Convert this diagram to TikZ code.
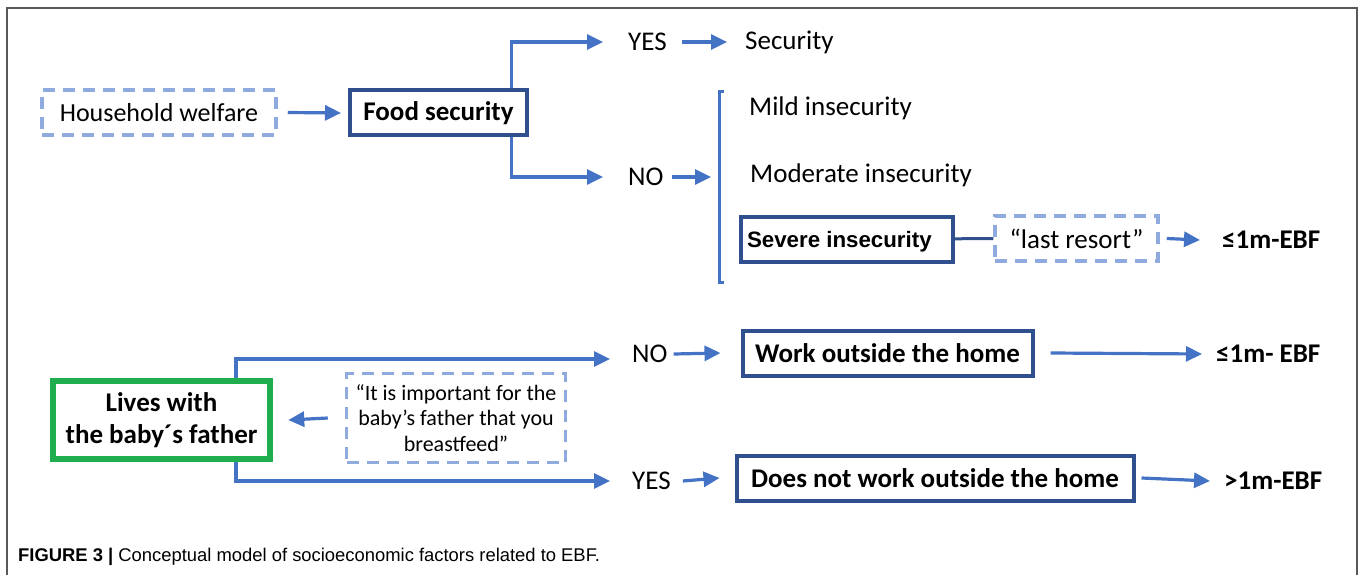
\documentclass[tikz,border=0pt]{standalone}
\usepackage{fontspec}
\setmainfont{Carlito}
\newfontfamily\capfont{Liberation Sans}
\usetikzlibrary{arrows.meta}
\usetikzlibrary{calc}

\definecolor{arrblue}{HTML}{4472C4}
\definecolor{boxblue}{HTML}{2F4F8F}
\definecolor{dashblue}{HTML}{8FAADC}
\definecolor{boxgreen}{HTML}{1EAE4E}

\tikzset{
	arr/.style={draw=arrblue, line width=3.2pt, -{Triangle[length=16pt,width=15pt]}},
	lnk/.style={draw=arrblue, line width=3pt},
	solidbox/.style={draw=boxblue, line width=4pt, font=\fontsize{27}{32}\selectfont\bfseries, inner sep=0pt, minimum height=45pt},
	dashbox/.style={draw=dashblue, line width=3.5pt, dash pattern=on 12pt off 8pt, inner sep=0pt},
	txt/.style={inner sep=0pt, anchor=west},
	bold/.style={font=\fontsize{27}{32}\selectfont\bfseries},
}

\begin{document}
\begin{tikzpicture}[x=1pt, y=-1pt, font=\fontsize{27}{32}\selectfont]
	\useasboundingbox (0,0) rectangle (1360,575);
	\draw[black!65, line width=1.5pt] (7,575) -- (7,8) -- (1357,8) -- (1357,575);

	% food security
	\node[dashbox, minimum width=234pt, minimum height=45pt, font=\fontsize{26}{31}\selectfont] (hw) at (159,112.5) {Household welfare};
	\node[solidbox, minimum width=177pt] (fs) at (438.5,113) {Food security};
	\node[txt] (yes1) at (628,42) {YES};
	\node[txt] (sec) at (745,42) {Security};
	\node[txt] (no1) at (628,177) {NO};
	\coordinate (brk) at (719,177);
	\node[txt] (mild) at (749,108) {Mild insecurity};
	\node[txt] (mod) at (750,175) {Moderate insecurity};
	\node[solidbox, minimum width=212pt, inner xsep=6pt, text height=16pt, text depth=0pt, font=\capfont\fontsize{22.3}{27}\selectfont\bfseries] (sev) at (847,239) {\makebox[200pt][l]{Severe insecurity}};
	\node[dashbox, minimum width=163pt, minimum height=45pt] (lr) at (1076.5,238.5) {“last resort”};
	\node[txt, bold] (ebf1) at (1222,240) {≤1m-EBF};

	\draw[lnk] (724,92) -- (719,92) -- (719,282) -- (724,282);
	\draw[arr] ([xshift=10pt]hw.east) -- ([xshift=-7pt]fs.west);
	\draw[arr] ([xshift=73pt]fs.north) |- ([xshift=-25pt]yes1.west);
	\draw[arr] ([xshift=73pt]fs.south) |- ([xshift=-25pt]no1.west);
	\draw[arr] ([xshift=15pt]yes1.east) -- ([xshift=-18pt]sec.west);
	\draw[arr] ([xshift=8pt]no1.east) -- ([xshift=-8pt]brk);
	\draw[draw=boxblue, line width=3pt] (sev) -- (lr);
	\draw[arr] ([xshift=7pt]lr.east) -- ([xshift=-22pt]ebf1.west);

	% baby's father
	\node[draw=boxgreen, line width=6.5pt, minimum width=217pt, minimum height=78pt, inner sep=0pt, align=center, font=\fontsize{27}{32}\selectfont\bfseries] (dad) at (161.5,420) {Lives with\\the baby´s father};
	\node[dashbox, minimum width=219pt, minimum height=89pt, align=center, font=\fontsize{22}{25.5}\selectfont] (quote) at (456,418) {“It is important for the\\baby’s father that you\\breastfeed”};
	\node[txt] (no2) at (632,354) {NO};
	\node[solidbox, minimum width=290pt] (work) at (887.5,353) {Work outside the home};
	\node[txt, bold] (ebf2) at (1216,354) {≤1m- EBF};
	\node[txt] (yes2) at (632,481) {YES};
	\node[solidbox, minimum width=397pt] (nowork) at (935,478) {Does not work outside the home};
	\node[txt, bold] (ebf3) at (1224,481) {>1m-EBF};

	\draw[arr] ([xshift=-17pt]quote.west) -- ([xshift=15pt]dad.east);
	\draw[arr] ([xshift=74.5pt]dad.north) |- ([xshift=-22pt,yshift=-5pt]no2.west);
	\draw[arr] ([xshift=74.5pt]dad.south) |- ([xshift=-22pt]yes2.west);
	\draw[arr] ([xshift=6pt]no2.east) -- ([xshift=-20pt]work.west);
	\draw[arr] ([xshift=12pt]yes2.east) -- ([xshift=-15pt]nowork.west);
	\draw[arr] ([xshift=16pt]work.east) -- ([xshift=-14pt]ebf2.west);
	\draw[arr] ([xshift=6pt]nowork.east) -- ([xshift=-14pt]ebf3.west);

	% caption
	\node[txt, font=\capfont\fontsize{18.4}{22}\selectfont] (cap) at (18,557) {\textbf{FIGURE 3 |} Conceptual model of socioeconomic factors related to EBF.};
\end{tikzpicture}
\end{document}
